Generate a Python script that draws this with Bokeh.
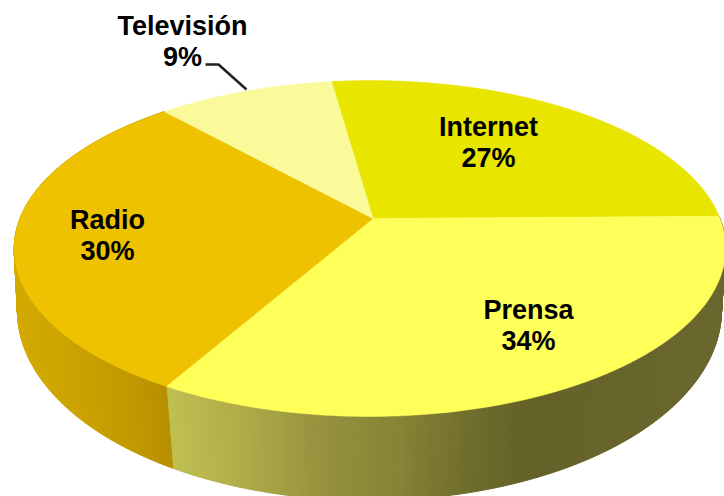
import numpy as np
from bokeh.plotting import figure
from bokeh.models import Range1d, ColumnDataSource
from bokeh.core.properties import value
from bokeh.embed import file_html
from bokeh.resources import INLINE

# Data
categories = ["Internet", "Prensa", "Radio", "Televisión"]
shares = [27.0, 33.5, 30.0, 9.5]
pct_labels = ["27%", "34%", "30%", "9%"]
top_colors = ["#E8E500", "#FFFF5A", "#EEC200", "#FBFA9B"]

# Style / layout
START_DEG = -8.0
WALL_STOPS = {
    "Radio": ([14, 60, 120, 171], [(210, 170, 0), (205, 165, 0), (195, 155, 0), (182, 142, 0)]),
    "Prensa": ([166, 240, 320, 400, 470, 525, 724],
               [(192, 192, 82), (176, 172, 72), (150, 146, 62), (134, 132, 54), (112, 110, 44), (100, 98, 40), (106, 104, 46)]),
}
LABEL_POS = {"Internet": (488, 126, 157), "Prensa": (528, 309, 340), "Radio": (107, 219, 250), "Televisión": (182, 25, 56)}
FONT = value("Liberation Sans")
FS = "27px"
LEADER_X = [205, 218, 246]
LEADER_Y = [64, 64, 89]


def project(theta, x0, y0, A, B, t, r):
    u, v = np.sin(theta), np.cos(theta)
    d = 1 + t * v + r * u
    return x0 + A * u / d, y0 - B * v / d


TOP = dict(x0=372.5, y0=218, A=350, B=162.6, t=0.1786, r=0.0086)
BOT = dict(x0=372, y0=281.5, A=348, B=185.7, t=0.15, r=0.0086)

p = figure(width=724, height=496, x_range=Range1d(0, 724), y_range=Range1d(496, 0),
           output_backend="svg", toolbar_location=None, min_border=0,
           outline_line_color=None, background_fill_color="white")
p.axis.visible = False
p.grid.visible = False

edges = START_DEG + 360 * np.concatenate([[0], np.cumsum(shares)]) / sum(shares)

# Side wall, drawn as thin shaded quads
xs, ys, cs = [], [], []
for name, a0, a1 in zip(categories, edges[:-1], edges[1:]):
    if name not in WALL_STOPS:
        continue
    sx, sc = WALL_STOPS[name]
    sc = np.array(sc, float)
    angs = np.radians(np.arange(a0, a1 + 0.6, 0.6))
    angs[-1] = min(angs[-1], np.radians(a1))
    tx, ty = project(angs, **TOP)
    bx, by = project(angs, **BOT)
    for i in range(len(angs) - 1):
        xs.append([tx[i], tx[i + 1], bx[i + 1], bx[i]])
        ys.append([ty[i], ty[i + 1], by[i + 1], by[i]])
        mx = (tx[i] + tx[i + 1]) / 2
        col = [int(np.interp(mx, sx, sc[:, k])) for k in range(3)]
        cs.append("#%02x%02x%02x" % tuple(col))
p.patches(xs, ys, fill_color=cs, line_color=cs, line_width=1)

# Top surface
for a0, a1, col in zip(edges[:-1], edges[1:], top_colors):
    angs = np.radians(np.linspace(a0, a1, 120))
    x, y = project(angs, **TOP)
    p.patch(np.r_[TOP["x0"], x], np.r_[TOP["y0"], y], fill_color=col, line_color=col, line_width=0.5)

# Leader
p.line(LEADER_X, LEADER_Y, line_color="#222222", line_width=2.5)

# Labels
src = ColumnDataSource(dict(
    x=[LABEL_POS[c][0] for c in categories] * 2,
    y=[LABEL_POS[c][1] for c in categories] + [LABEL_POS[c][2] for c in categories],
    t=categories + pct_labels,
))
p.text("x", "y", "t", source=src, text_font=FONT, text_font_style="bold", text_font_size=FS,
       text_color="black", text_align="center", text_baseline="middle")

open("out.html", "w").write(file_html(p, INLINE))
